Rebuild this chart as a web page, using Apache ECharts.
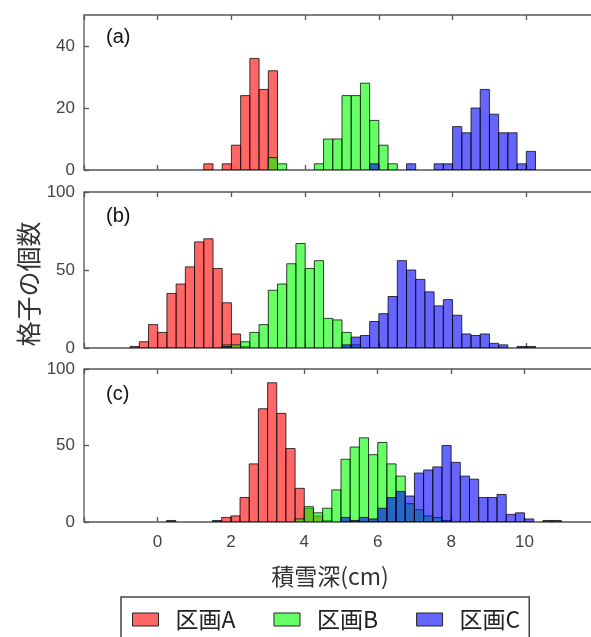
<!DOCTYPE html>
<html>
<head>
<meta charset="utf-8">
<script src="https://cdn.jsdelivr.net/npm/echarts@6/dist/echarts.min.js"></script>
<style>
html,body{margin:0;padding:0;overflow:hidden;background:#fff;}
#chart{width:601px;height:637px;}
</style>
</head>
<body>
<div id="chart"></div>
<script>
// bin width of the histograms (cm)
const BIN = 0.25;
const xTicks = [0, 2, 4, 6, 8, 10];
const seriesNames = ['区画A', '区画B', '区画C'];
const panelLabels = ['(a)', '(b)', '(c)'];
const yMax = [50, 100, 100];
const yInterval = [20, 50, 50];

// [bin left edge, count]
const a_A = [[1.25,2],[1.75,2],[2.0,8],[2.25,24],[2.5,36],[2.75,26],[3.0,32]];
const a_B = [[3.0,4],[3.25,2],[4.25,2],[4.5,10],[4.75,10],[5.0,24],[5.25,24],[5.5,28],[5.75,16],[6.0,8],[6.25,2]];
const a_C = [[5.75,2],[6.75,2],[7.5,2],[7.75,2],[8.0,14],[8.25,12],[8.5,20],[8.75,26],[9.0,18],[9.25,12],[9.5,12],[9.75,2],[10.0,6]];

const b_A = [[-0.75,1],[-0.5,4],[-0.25,15],[0,10],[0.25,35],[0.5,41],[0.75,52],[1.0,68],[1.25,70],[1.5,51],[1.75,29],[2.0,9],[2.25,1]];
const b_B = [[1.75,2],[2.0,2],[2.25,4],[2.5,10],[2.75,15],[3.0,37],[3.25,41],[3.5,54],[3.75,67],[4.0,51],[4.25,56],[4.5,19],[4.75,18],[5.0,10],[5.25,2]];
const b_C = [[1.75,1],[5.0,2],[5.25,7],[5.5,8],[5.75,17],[6.0,22],[6.25,33],[6.5,56],[6.75,50],[7.0,44],[7.25,36],[7.5,27],[7.75,31],[8.0,21],[8.25,9],[8.5,8],[8.75,9],[9.0,3],[9.25,2],[9.75,1],[10.0,1]];

const c_A = [[1.75,3],[2.0,4],[2.25,16],[2.5,38],[2.75,74],[3.0,91],[3.25,71],[3.5,48],[3.75,22],[4.0,9],[4.25,4],[4.5,1]];
const c_B = [[3.75,2],[4.0,10],[4.25,6],[4.5,9],[4.75,21],[5.0,41],[5.25,49],[5.5,55],[5.75,44],[6.0,52],[6.25,38],[6.5,30],[6.75,12],[7.0,8],[7.25,4],[7.5,3],[7.75,1]];
const c_C = [[0.25,1],[1.5,1],[5.0,3],[5.25,1],[5.5,3],[5.75,2],[6.0,9],[6.25,16],[6.5,20],[6.75,17],[7.0,32],[7.25,34],[7.5,36],[7.75,50],[8.0,39],[8.25,30],[8.5,28],[8.75,16],[9.0,16],[9.25,18],[9.5,5],[9.75,6],[10.0,2],[10.5,1],[10.75,1]];

const panels = [[a_A, a_B, a_C], [b_A, b_B, b_C], [c_A, c_B, c_C]];
const colors = ['rgba(255,0,0,0.6)', 'rgba(0,255,0,0.6)', 'rgba(0,0,255,0.6)'];

const gridPos = [{top: 15, height: 155}, {top: 192, height: 156}, {top: 369, height: 153}];
const FONT = 'Liberation Sans, Arial, sans-serif';
const JFONT = '"Noto Sans CJK JP", sans-serif';

const grids = [], xAxes = [], yAxes = [], series = [], graphics = [];
const tickStyle = {show: true, inside: true, length: 5, lineStyle: {color: '#555', width: 1.3}};
gridPos.forEach((g, i) => {
  grids.push({left: 84, width: 516, top: g.top, height: g.height, show: true,
    borderColor: '#555', borderWidth: 1.3, backgroundColor: 'transparent'});
  const last = i === 2;
  xAxes.push({type: 'value', gridIndex: i, position: 'bottom', min: -2, max: 12, interval: 2,
    axisLine: {show: false, onZero: false}, splitLine: {show: false},
    axisTick: tickStyle,
    axisLabel: {show: last, margin: 12, fontSize: 17, color: '#444', fontFamily: FONT,
      formatter: v => xTicks.indexOf(v) >= 0 ? String(v) : ''},
    name: last ? '積雪深(cm)' : '', nameLocation: 'middle', nameGap: 43,
    nameTextStyle: {fontSize: 23, color: '#333', fontFamily: JFONT, padding: [0, 22, 0, 0]}});
  xAxes.push({type: 'value', gridIndex: i, position: 'top', min: -2, max: 12, interval: 2,
    axisLine: {show: false, onZero: false}, splitLine: {show: false}, axisLabel: {show: false},
    axisTick: tickStyle});
  yAxes.push({type: 'value', gridIndex: i, position: 'left', min: 0, max: yMax[i], interval: yInterval[i],
    axisLine: {show: false, onZero: false}, splitLine: {show: false},
    axisTick: tickStyle,
    axisLabel: {margin: 9, fontSize: 17, color: '#444', fontFamily: FONT, showMaxLabel: i !== 0}});
  panels[i].forEach((data, k) => {
    series.push({type: 'custom', name: seriesNames[k], xAxisIndex: 2 * i, yAxisIndex: i,
      itemStyle: {color: colors[k]}, clip: true, data: data,
      renderItem: (params, api) => {
        const x0 = api.value(0), y = api.value(1);
        const p0 = api.coord([x0, y]);
        const p1 = api.coord([x0 + BIN, 0]);
        return {type: 'rect',
          shape: {x: p0[0], y: p0[1], width: p1[0] - p0[0], height: p1[1] - p0[1]},
          style: {fill: colors[k], stroke: 'rgba(0,0,0,0.75)', lineWidth: 1}};
      }});
  });
  graphics.push({type: 'text', left: 106, top: [27, 206, 384][i],
    style: {text: panelLabels[i], fontSize: 20, fill: '#111', fontFamily: FONT}});
});
graphics.push({type: 'text', x: 28, y: 284, rotation: Math.PI / 2,
  style: {text: '格子の個数', fontSize: 25, fill: '#333', fontFamily: JFONT,
    textAlign: 'center', textVerticalAlign: 'middle'}});

const chart = echarts.init(document.getElementById('chart'), null, {renderer: 'canvas'});
chart.setOption({
  animation: false,
  grid: grids, xAxis: xAxes, yAxis: yAxes, series: series, graphic: graphics,
  legend: {data: seriesNames, left: 121, top: 597, orient: 'horizontal',
    padding: [11, 9, 12, 11], itemGap: 38, itemWidth: 26, itemHeight: 13, icon: 'rect',
    borderColor: '#444', borderWidth: 1.5, backgroundColor: '#fff',
    itemStyle: {borderColor: '#222', borderWidth: 1},
    textStyle: {fontSize: 23, color: '#222', fontFamily: JFONT, padding: [0, 0, 0, 12]}}
});
</script>
</body>
</html>
